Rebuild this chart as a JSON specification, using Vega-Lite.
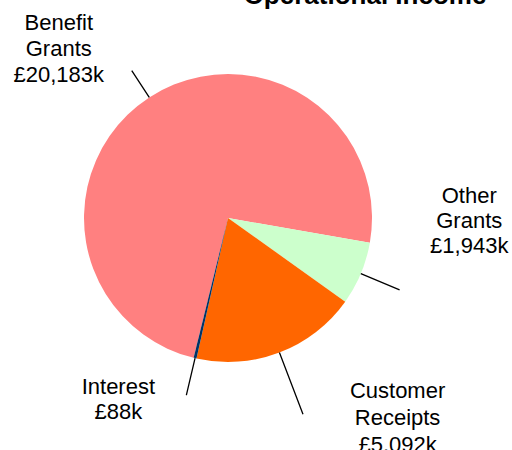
{
  "$schema": "https://vega.github.io/schema/vega-lite/v6.json",
  "width": 456,
  "height": 436,
  "autosize": {"type": "none"},
  "padding": {"left": 0, "top": 0, "right": 56, "bottom": 14},
  "background": "white",
  "title": {
    "text": "Operational Income",
    "orient": "none",
    "font": "Liberation Sans",
    "fontSize": 26,
    "fontWeight": "bold",
    "color": "#000000",
    "anchor": "middle",
    "baseline": "alphabetic",
    "offset": 0,
    "dx": 365,
    "dy": 4
  },
  "config": {"view": {"stroke": null}},
  "data": {
    "values": [
      {"category": "Benefit Grants", "value": 20183, "rank": 1, "label": "Benefit\nGrants\n£20,183k"},
      {"category": "Other Grants", "value": 1943, "rank": 2, "label": "Other\nGrants\n£1,943k"},
      {"category": "Customer Receipts", "value": 5092, "rank": 3, "label": "Customer\nReceipts\n£5,092k"},
      {"category": "Interest", "value": 88, "rank": 4, "label": "Interest\n£88k"}
    ]
  },
  "layer": [
    {
      "mark": {"type": "arc", "radius": 144},
      "encoding": {
        "theta": {"field": "value", "type": "quantitative", "stack": true, "scale": {"range": [3.3825, 9.6657]}},
        "order": {"field": "rank", "type": "quantitative"},
        "color": {
          "field": "category",
          "type": "nominal",
          "scale": {
            "domain": ["Benefit Grants", "Other Grants", "Customer Receipts", "Interest"],
            "range": ["#FF8080", "#CCFFCC", "#FF6600", "#003366"]
          },
          "legend": null
        }
      }
    },
    {
      "transform": [
        {"stack": "value", "groupby": [], "sort": [{"field": "rank", "order": "ascending"}], "as": ["v0", "v1"]},
        {"filter": "datum.category === 'Benefit Grants'"}
      ],
      "mark": {"type": "arc", "radius": 176, "radius2": 144, "padAngle": 3.1416, "thetaOffset": 1.5, "theta2Offset": -1.5, "fill": "transparent", "stroke": "#000000", "strokeWidth": 1.3},
      "encoding": {
        "theta": {"field": "v0", "type": "quantitative"},
        "theta2": {"field": "v1"}
      }
    },
    {
      "transform": [
        {"stack": "value", "groupby": [], "sort": [{"field": "rank", "order": "ascending"}], "as": ["v0", "v1"]},
        {"filter": "datum.category === 'Other Grants'"}
      ],
      "mark": {"type": "arc", "radius": 186, "radius2": 144, "padAngle": 3.1416, "fill": "transparent", "stroke": "#000000", "strokeWidth": 1.3},
      "encoding": {
        "theta": {"field": "v0", "type": "quantitative"},
        "theta2": {"field": "v1"}
      }
    },
    {
      "transform": [
        {"stack": "value", "groupby": [], "sort": [{"field": "rank", "order": "ascending"}], "as": ["v0", "v1"]},
        {"filter": "datum.category === 'Customer Receipts'"}
      ],
      "mark": {"type": "arc", "radius": 210, "radius2": 144, "padAngle": 3.1416, "fill": "transparent", "stroke": "#000000", "strokeWidth": 1.3},
      "encoding": {
        "theta": {"field": "v0", "type": "quantitative"},
        "theta2": {"field": "v1"}
      }
    },
    {
      "transform": [
        {"stack": "value", "groupby": [], "sort": [{"field": "rank", "order": "ascending"}], "as": ["v0", "v1"]},
        {"filter": "datum.category === 'Interest'"}
      ],
      "mark": {"type": "arc", "radius": 182, "radius2": 144, "padAngle": 3.1416, "fill": "transparent", "stroke": "#000000", "strokeWidth": 1.3},
      "encoding": {
        "theta": {"field": "v0", "type": "quantitative"},
        "theta2": {"field": "v1"}
      }
    },
    {
      "mark": {"type": "text", "radius": 176, "dx": -73, "dy": -41, "align": "center", "baseline": "alphabetic", "lineBreak": "\n", "lineHeight": 26, "font": "Liberation Sans", "fontSize": 22, "color": "#000000"},
      "encoding": {
        "theta": {"field": "value", "type": "quantitative", "stack": true},
        "order": {"field": "rank", "type": "quantitative"},
        "detail": {"field": "category", "type": "nominal"},
        "text": {"condition": {"test": "datum.category === 'Benefit Grants'", "field": "label"}, "value": ""}
      }
    },
    {
      "mark": {"type": "text", "radius": 100, "dx": 149, "dy": -54, "align": "center", "baseline": "alphabetic", "lineBreak": "\n", "lineHeight": 25, "font": "Liberation Sans", "fontSize": 22, "color": "#000000"},
      "encoding": {
        "theta": {"field": "value", "type": "quantitative", "stack": true},
        "order": {"field": "rank", "type": "quantitative"},
        "detail": {"field": "category", "type": "nominal"},
        "text": {"condition": {"test": "datum.category === 'Other Grants'", "field": "label"}, "value": ""}
      }
    },
    {
      "mark": {"type": "text", "radius": 150, "dx": 116, "dy": 40, "align": "center", "baseline": "alphabetic", "lineBreak": "\n", "lineHeight": 27, "font": "Liberation Sans", "fontSize": 22, "color": "#000000"},
      "encoding": {
        "theta": {"field": "value", "type": "quantitative", "stack": true},
        "order": {"field": "rank", "type": "quantitative"},
        "detail": {"field": "category", "type": "nominal"},
        "text": {"condition": {"test": "datum.category === 'Customer Receipts'", "field": "label"}, "value": ""}
      }
    },
    {
      "mark": {"type": "text", "radius": 182, "dx": -68, "dy": -1, "align": "center", "baseline": "alphabetic", "lineBreak": "\n", "lineHeight": 25, "font": "Liberation Sans", "fontSize": 22, "color": "#000000"},
      "encoding": {
        "theta": {"field": "value", "type": "quantitative", "stack": true},
        "order": {"field": "rank", "type": "quantitative"},
        "detail": {"field": "category", "type": "nominal"},
        "text": {"condition": {"test": "datum.category === 'Interest'", "field": "label"}, "value": ""}
      }
    }
  ]
}
